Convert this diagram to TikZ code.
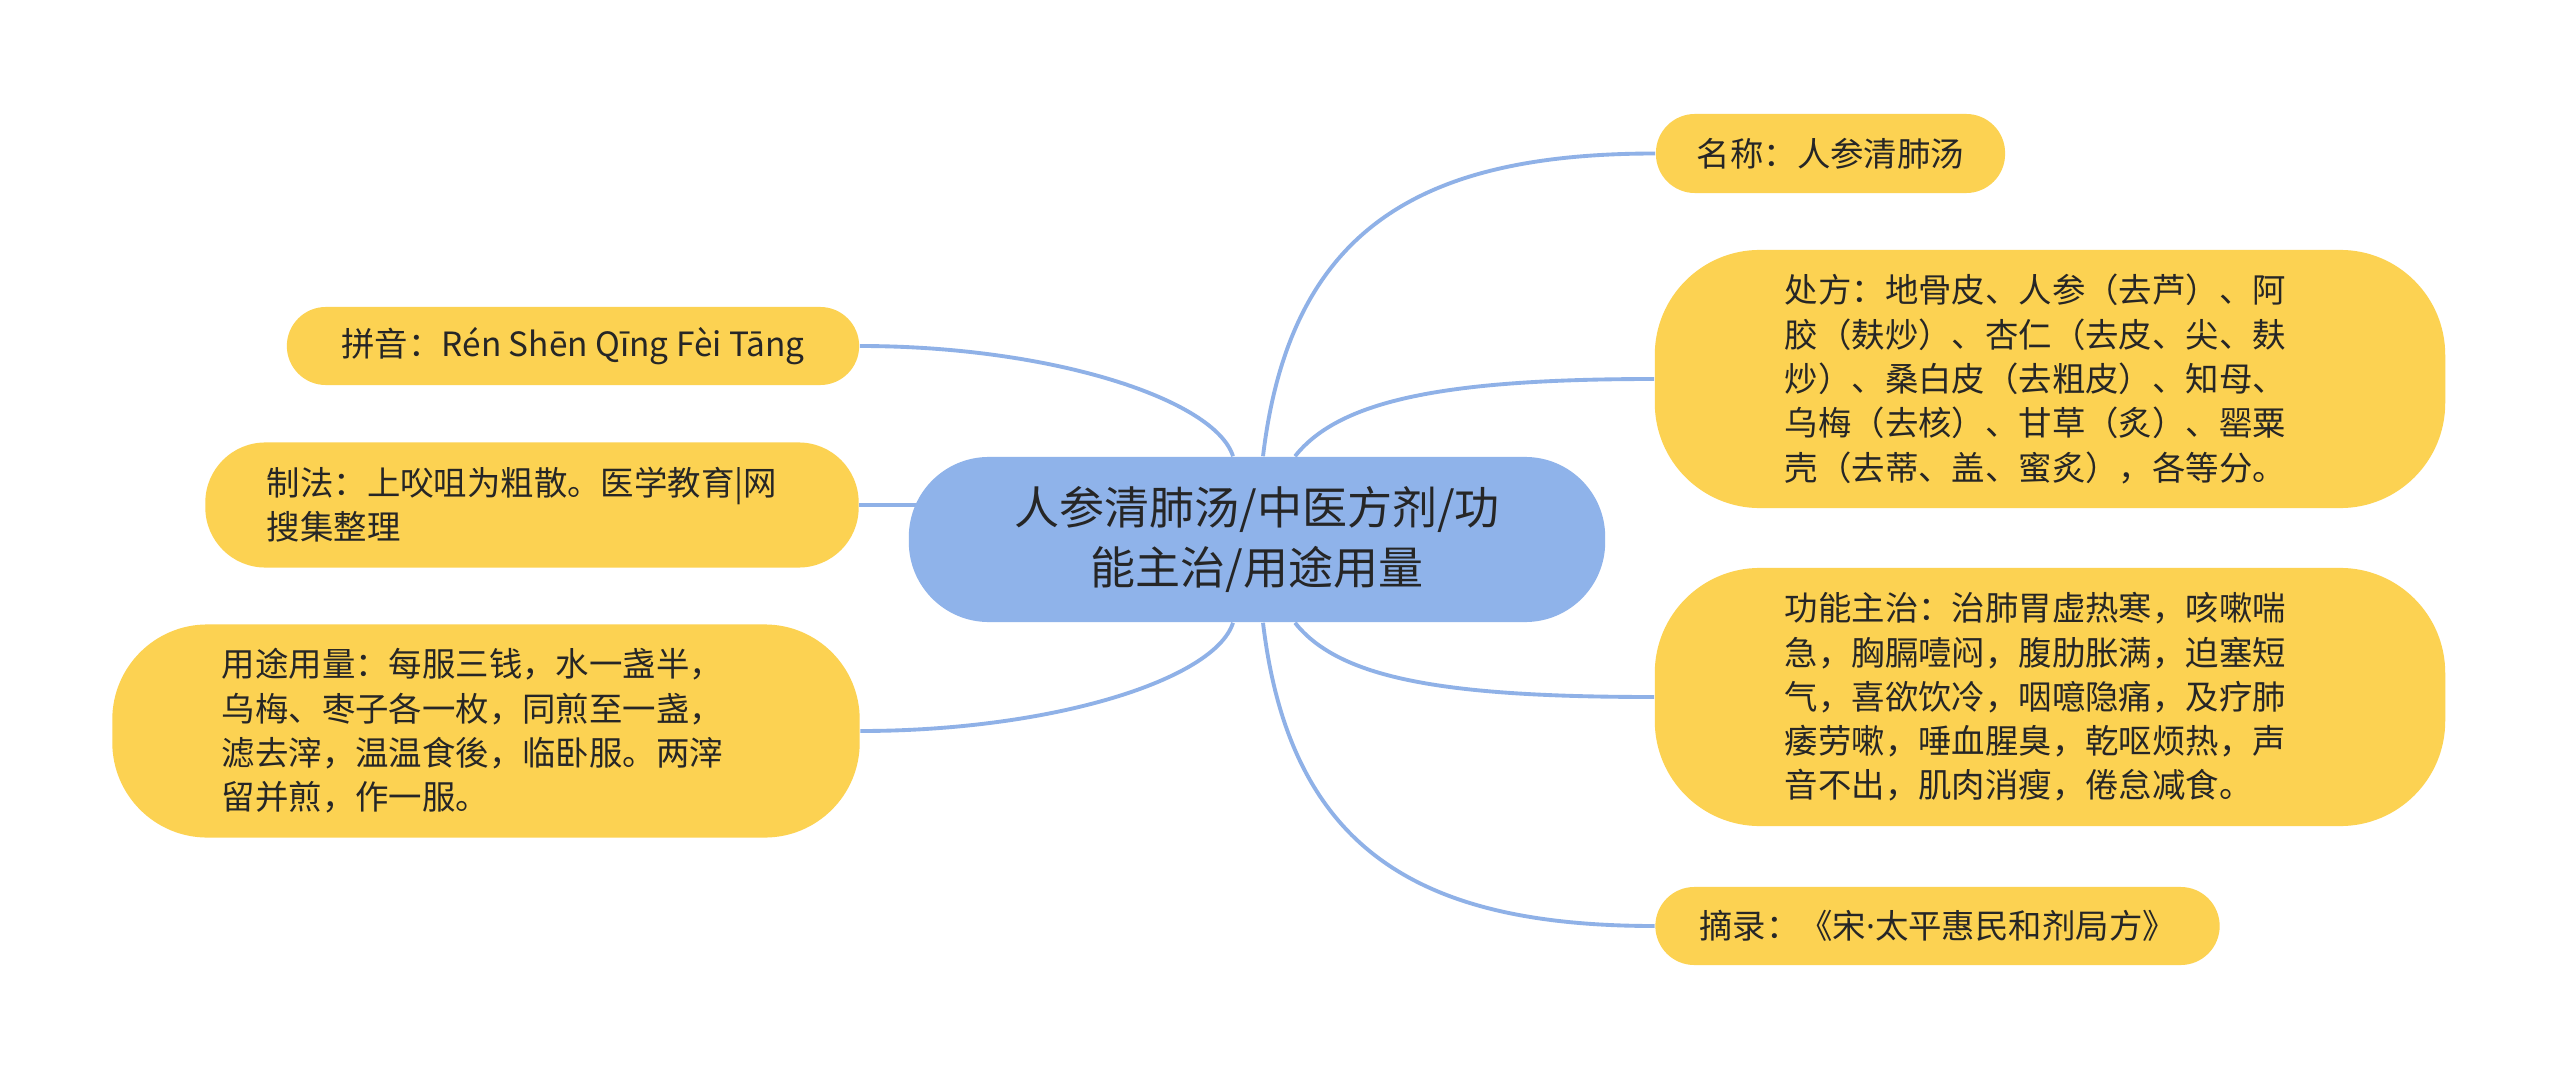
\documentclass[tikz,border=0pt]{standalone}
\usepackage{fontspec}
\setmainfont{Noto Sans CJK SC}
\newfontfamily\latinfont{Noto Sans}
\usepackage{tikz}
\usetikzlibrary{backgrounds}
\definecolor{mapyellow}{RGB}{252,210,82}
\definecolor{mapblue}{RGB}{143,179,234}
\definecolor{linkblue}{RGB}{143,177,231}
\definecolor{inkgray}{RGB}{38,38,38}

\begin{document}
\begin{tikzpicture}[x=0.01cm, y=-0.01cm,
    leaf/.style={fill=mapyellow, text=inkgray, inner sep=0pt, align=left,
        font=\fontsize{9.5pt}{12.6pt}\selectfont},
    link/.style={linkblue, line width=1.1pt}]
    \useasboundingbox (0,0) rectangle (2560,1079);

    % Central topic
    \node[fill=mapblue, text=inkgray, rounded corners=0.8cm, inner sep=0pt,
        minimum width=6.96cm, minimum height=1.65cm, align=center,
        font=\fontsize{12.8pt}{17.1pt}\selectfont] (hub) at (1257,539.5)
        {人参清肺汤/中医方剂/功\\能主治/用途用量};

    % Right branches
    \node[leaf, rounded corners=0.39cm, minimum width=3.49cm, minimum height=0.79cm]
        (mingcheng) at (1830.5,153.5) {名称：人参清肺汤};
    \node[leaf, rounded corners=1.05cm, minimum width=7.9cm, minimum height=2.58cm, text width=5.3cm]
        (chufang) at (2050,379) {处方：地骨皮、人参（去芦）、阿\\胶（麸炒）、杏仁（去皮、尖、麸\\炒）、桑白皮（去粗皮）、知母、\\乌梅（去核）、甘草（炙）、罂粟\\壳（去蒂、盖、蜜炙），各等分。};
    \node[leaf, rounded corners=1.05cm, minimum width=7.9cm, minimum height=2.58cm, text width=5.3cm]
        (gongneng) at (2050,697) {功能主治：治肺胃虚热寒，咳嗽喘\\急，胸膈噎闷，腹肋胀满，迫塞短\\气，喜欲饮冷，咽噫隐痛，及疗肺\\痿劳嗽，唾血腥臭，乾呕烦热，声\\音不出，肌肉消瘦，倦怠减食。};
    \node[leaf, rounded corners=0.39cm, minimum width=5.64cm, minimum height=0.78cm]
        (zhailu) at (1937.5,926) {摘录：《宋{\latinfont ·}太平惠民和剂局方》};

    % Left branches
    \node[leaf, rounded corners=0.39cm, minimum width=5.72cm, minimum height=0.78cm]
        (pinyin) at (573,346) {拼音：Rén Shēn Qīng Fèi Tāng};
    \node[leaf, rounded corners=0.6cm, minimum width=6.53cm, minimum height=1.25cm, text width=5.3cm]
        (zhifa) at (532,505) {制法：上㕮咀为粗散。医学教育|网\\搜集整理};
    \node[leaf, rounded corners=0.95cm, minimum width=7.47cm, minimum height=2.13cm, text width=5.28cm]
        (yongliang) at (486,731) {用途用量：每服三钱，水一盏半，\\乌梅、枣子各一枚，同煎至一盏，\\滤去滓，温温食後，临卧服。两滓\\留并煎，作一服。};

    % Connectors behind the nodes
    \begin{scope}[on background layer]
        \fill[white] (0,0) rectangle (2560,1079);
        \draw[link] ([xshift=0.06cm]hub.north) .. controls +(27,-227) and +(-236,0) .. (mingcheng.west);
        \draw[link] ([xshift=0.38cm]hub.north) .. controls +(45,-57) and +(-206,0) .. (chufang.west);
        \draw[link] ([xshift=0.38cm]hub.south) .. controls +(45,57) and +(-206,0) .. (gongneng.west);
        \draw[link] ([xshift=0.06cm]hub.south) .. controls +(27,227) and +(-236,0) .. (zhailu.west);
        \draw[link] ([xshift=-0.24cm]hub.north) .. controls +(-18,-57) and +(191,0) .. (pinyin.east);
        \draw[link] (zhifa.east) -- (zhifa.east -| hub.center);
        \draw[link] ([xshift=-0.24cm]hub.south) .. controls +(-18,57) and +(191,0) .. (yongliang.east);
    \end{scope}
\end{tikzpicture}
\end{document}
